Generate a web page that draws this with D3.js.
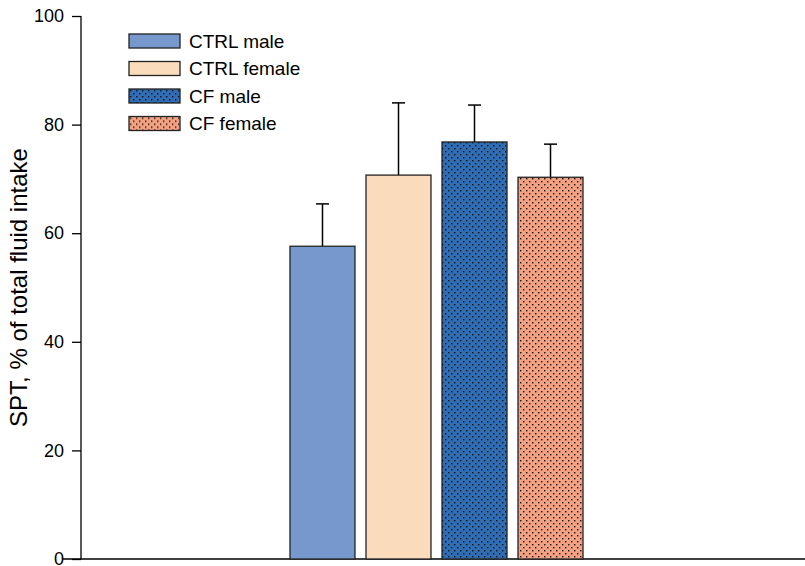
<!DOCTYPE html>
<html>
<head>
<meta charset="utf-8">
<script src="https://cdn.jsdelivr.net/npm/d3@7"></script>
<style>
  body { margin: 0; background: #fff; }
  text { font-family: "Liberation Sans", Arial, sans-serif; fill: #000; }
</style>
</head>
<body>
<script>
"use strict";

var groups = ["CTRL male", "CTRL female", "CF male", "CF female"];
var means = [57.6, 70.7, 76.8, 70.3];
var errs = [7.8, 13.3, 6.8, 6.1];
var fills = ["#7798cd", "#fadbbb", "#2f6db5", "#f4a182"];
var dotted = [false, false, true, true];
var yTicks = [0, 20, 40, 60, 80, 100];

var width = 805, height = 566;

var svg = d3.select("body").append("svg")
    .attr("width", width)
    .attr("height", height);

// dot pattern for the CF bars
var defs = svg.append("defs");
fills.forEach(function (c, i) {
  if (!dotted[i]) return;
  var p = defs.append("pattern")
      .attr("id", "dots" + i)
      .attr("patternUnits", "userSpaceOnUse")
      .attr("width", 6).attr("height", 6);
  p.append("rect").attr("width", 6).attr("height", 6).attr("fill", c);
  p.append("rect").attr("x", 1).attr("y", 1).attr("width", 1.4).attr("height", 1.4).attr("fill", "#111");
  p.append("rect").attr("x", 4).attr("y", 4).attr("width", 1.4).attr("height", 1.4).attr("fill", "#111");
});
function fillFor(i) { return dotted[i] ? "url(#dots" + i + ")" : fills[i]; }

var y = d3.scaleLinear().domain([0, 100]).range([559, 16]);
var x = d3.scaleBand().domain(groups).range([290, 583]).paddingInner(0.145);

// y axis
var yAxis = svg.append("g")
    .attr("transform", "translate(81,0)")
    .call(d3.axisLeft(y).tickValues(yTicks).tickSize(9).tickPadding(8));
yAxis.select(".domain").attr("stroke", "#000").attr("stroke-width", 1.3).attr("d", "M0," + y(0) + "V" + y(100));
yAxis.selectAll(".tick line").attr("stroke", "#000").attr("stroke-width", 1.3);
yAxis.selectAll("text").style("font-size", "18px").attr("fill", "#000");

// x axis line
svg.append("line")
    .attr("x1", 62).attr("x2", width)
    .attr("y1", y(0)).attr("y2", y(0))
    .attr("stroke", "#000").attr("stroke-width", 1.3);

// y label
svg.append("text")
    .attr("transform", "translate(27," + y(50) + ") rotate(-90)")
    .attr("text-anchor", "middle")
    .style("font-size", "24px")
    .text("SPT, % of total fluid intake");

// error bars first, then bars on top
var eb = svg.selectAll(".err").data(groups).enter().append("g").attr("class", "err");
eb.append("line")
    .attr("x1", function (d) { return x(d) + x.bandwidth() / 2; })
    .attr("x2", function (d) { return x(d) + x.bandwidth() / 2; })
    .attr("y1", function (d, i) { return y(means[i]); })
    .attr("y2", function (d, i) { return y(means[i] + errs[i]); })
    .attr("stroke", "#000").attr("stroke-width", 1.5);
eb.append("line")
    .attr("x1", function (d) { return x(d) + x.bandwidth() / 2 - 6.5; })
    .attr("x2", function (d) { return x(d) + x.bandwidth() / 2 + 6.5; })
    .attr("y1", function (d, i) { return y(means[i] + errs[i]); })
    .attr("y2", function (d, i) { return y(means[i] + errs[i]); })
    .attr("stroke", "#000").attr("stroke-width", 1.5);

svg.selectAll(".bar").data(groups).enter().append("rect")
    .attr("class", "bar")
    .attr("x", function (d) { return x(d); })
    .attr("width", x.bandwidth())
    .attr("y", function (d, i) { return y(means[i]); })
    .attr("height", function (d, i) { return y(0) - y(means[i]); })
    .attr("fill", function (d, i) { return fillFor(i); })
    .attr("stroke", "#222").attr("stroke-width", 1.3);

// legend
var legend = svg.selectAll(".leg").data(groups).enter().append("g")
    .attr("class", "leg")
    .attr("transform", function (d, i) { return "translate(129," + (34 + i * 27.5) + ")"; });
legend.append("rect")
    .attr("width", 51).attr("height", 14)
    .attr("fill", function (d, i) { return fillFor(i); })
    .attr("stroke", "#222").attr("stroke-width", 1.3);
legend.append("text")
    .attr("x", 60).attr("y", 7).attr("dy", "0.35em")
    .style("font-size", "19px")
    .text(function (d) { return d; });
</script>
</body>
</html>
